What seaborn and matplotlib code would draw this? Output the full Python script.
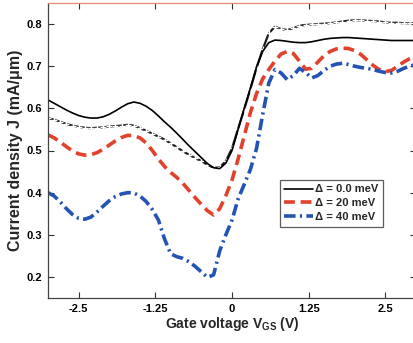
import numpy as np
import pandas as pd
import matplotlib
matplotlib.use("Agg")
import matplotlib.pyplot as plt
import seaborn as sns
from matplotlib import font_manager

# Gate voltage grid (V)
vgs = [-3.0, -2.9, -2.8, -2.7, -2.6, -2.5, -2.4, -2.3, -2.2, -2.1,
       -2.0, -1.9, -1.8, -1.7, -1.6, -1.5, -1.4, -1.3, -1.2, -1.1,
       -1.0, -0.9, -0.8, -0.7, -0.6, -0.5, -0.4, -0.3, -0.2, -0.1,
       0.0, 0.1, 0.2, 0.3, 0.4, 0.5, 0.6, 0.7, 0.8, 0.9,
       1.0, 1.1, 1.2, 1.3, 1.4, 1.5, 1.6, 1.7, 1.8, 1.9,
       2.0, 2.1, 2.2, 2.3, 2.4, 2.5, 2.6, 2.7, 2.8, 2.9, 3.0]

# Delta = 0.0 meV (solid)
j_d0 = [0.620, 0.612, 0.604, 0.596, 0.589, 0.583, 0.579, 0.577, 0.577, 0.580,
        0.586, 0.594, 0.603, 0.611, 0.615, 0.612, 0.605, 0.595, 0.582, 0.568,
        0.555, 0.541, 0.526, 0.511, 0.497, 0.483, 0.469, 0.459, 0.457, 0.470,
        0.500, 0.550, 0.600, 0.648, 0.698, 0.735, 0.756, 0.762, 0.761, 0.759,
        0.757, 0.756, 0.756, 0.758, 0.761, 0.764, 0.766, 0.767, 0.768, 0.768,
        0.767, 0.766, 0.765, 0.764, 0.763, 0.762, 0.761, 0.761, 0.761, 0.761, 0.761]

# Reference curve with markers (no legend entry)
j_ref = [0.577, 0.573, 0.568, 0.563, 0.559, 0.556, 0.554, 0.553, 0.554, 0.555,
         0.557, 0.558, 0.559, 0.561, 0.559, 0.553, 0.547, 0.540, 0.533, 0.526,
         0.517, 0.508, 0.498, 0.490, 0.482, 0.475, 0.466, 0.459, 0.460, 0.475,
         0.505, 0.552, 0.598, 0.646, 0.696, 0.740, 0.778, 0.794, 0.788, 0.786,
         0.790, 0.796, 0.798, 0.799, 0.800, 0.801, 0.802, 0.804, 0.806, 0.808,
         0.809, 0.809, 0.808, 0.807, 0.806, 0.804, 0.803, 0.803, 0.802, 0.802, 0.802]

# Delta = 20 meV (dashed red)
j_d20 = [0.537, 0.530, 0.520, 0.509, 0.499, 0.492, 0.489, 0.490, 0.495, 0.503,
         0.513, 0.523, 0.531, 0.536, 0.535, 0.530, 0.518, 0.500, 0.480, 0.462,
         0.448, 0.436, 0.422, 0.405, 0.388, 0.372, 0.357, 0.347, 0.362, 0.393,
         0.430, 0.480, 0.535, 0.590, 0.635, 0.670, 0.692, 0.712, 0.729, 0.735,
         0.730, 0.712, 0.693, 0.695, 0.710, 0.725, 0.735, 0.741, 0.743, 0.742,
         0.737, 0.728, 0.715, 0.702, 0.692, 0.687, 0.690, 0.700, 0.710, 0.718, 0.724]

# Delta = 40 meV (dash-dot blue)
j_d40 = [0.400, 0.392, 0.378, 0.362, 0.348, 0.339, 0.337, 0.342, 0.354, 0.368,
         0.381, 0.391, 0.397, 0.400, 0.399, 0.392, 0.379, 0.360, 0.335, 0.290,
         0.255, 0.248, 0.244, 0.236, 0.225, 0.212, 0.199, 0.205, 0.262, 0.300,
         0.335, 0.385, 0.420, 0.455, 0.505, 0.585, 0.660, 0.692, 0.684, 0.668,
         0.678, 0.695, 0.685, 0.672, 0.678, 0.690, 0.700, 0.705, 0.707, 0.704,
         0.700, 0.697, 0.695, 0.692, 0.688, 0.685, 0.684, 0.688, 0.695, 0.700, 0.704]

labels = ["\u0394 = 0.0 meV", "\u0394 = 20 meV", "\u0394 = 40 meV"]
xticks = [-2.5, -1.25, 0, 1.25, 2.5]
xticklabels = ["-2.5", "-1.25", "0", "1.25", "2.5"]
yticks = [0.2, 0.3, 0.4, 0.5, 0.6, 0.7, 0.8]

sns.set_style("ticks")
plt.rcParams['font.family'] = ['Liberation Sans', 'DejaVu Sans']
plt.rcParams['font.weight'] = 'bold'
plt.rcParams['mathtext.fontset'] = 'custom'
plt.rcParams['mathtext.rm'] = 'Liberation Sans:bold'
plt.rcParams['mathtext.bf'] = 'Liberation Sans:bold'
plt.rcParams['mathtext.it'] = 'Liberation Sans:bold'
plt.rcParams['mathtext.default'] = 'bf'

names = {f.name for f in font_manager.fontManager.ttflist}
narrow = 'Liberation Sans Narrow' if 'Liberation Sans Narrow' in names else 'Liberation Sans'

fig = plt.figure(figsize=(4.14, 3.43), dpi=100)
ax = fig.add_axes([48/414, 45/343, 368/414, 295/343])

sns.lineplot(x=vgs, y=j_ref, ax=ax, color="#1a1a1a", lw=1.6, marker="+",
             markersize=4, markeredgewidth=1.0, legend=False)
sns.lineplot(x=vgs, y=j_d0, ax=ax, color="black", lw=1.2, label=labels[0])
sns.lineplot(x=vgs, y=j_d20, ax=ax, color="#e2412b", lw=2.6,
             linestyle=(0, (3.0, 1.6)), label=labels[1])
sns.lineplot(x=vgs, y=j_d40, ax=ax, color="#2453b3", lw=2.6,
             linestyle=(0, (3.2, 1.2, 0.6, 1.2)), label=labels[2])

ax.set_xlim(-3.0, 3.0)
ax.set_ylim(0.15, 0.85)
ax.set_xticks(xticks)
ax.set_xticklabels(xticklabels)
ax.set_yticks(yticks)
ax.tick_params(direction="in", length=4, width=0.8, labelsize=8, pad=4,
               top=True, right=True, colors="#333333", labelcolor="black")
for lab in ax.get_xticklabels() + ax.get_yticklabels():
    lab.set_fontweight("bold")

for s in ["left", "bottom", "right"]:
    ax.spines[s].set_color("#444444")
    ax.spines[s].set_linewidth(0.9)
ax.spines["top"].set_color("#e58a78")
ax.spines["top"].set_linewidth(0.9)

if narrow != 'Liberation Sans':
    plt.rcParams['mathtext.bf'] = narrow + ':bold'
    plt.rcParams['mathtext.rm'] = narrow + ':bold'
    xl_size = 12
else:
    xl_size = 10
ax.set_xlabel("Gate voltage V$_{GS}$ (V)", fontsize=xl_size, fontweight="bold",
              labelpad=1, family=[narrow, 'DejaVu Sans'])
ax.set_ylabel("Current density J (mA/\u03bcm)", fontsize=11.5, fontweight="bold",
              labelpad=3)

leg = ax.legend(loc="upper left", bbox_to_anchor=(0.63, 0.40), fontsize=8,
                frameon=True, fancybox=False, edgecolor="#333333",
                handlelength=2.6, handletextpad=0.2, labelspacing=0.35,
                borderpad=0.4, borderaxespad=0)
leg.get_frame().set_linewidth(0.9)
for t in leg.get_texts():
    t.set_fontweight("bold")

fig.savefig("out.png", dpi=100)
